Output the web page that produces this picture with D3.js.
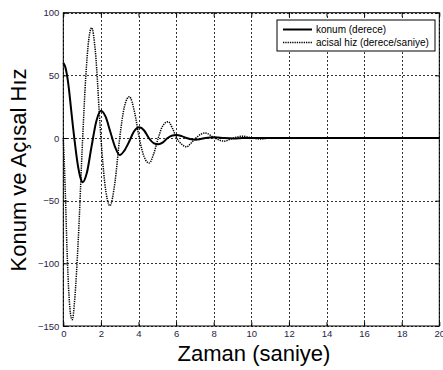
<!DOCTYPE html>
<html>
<head>
<meta charset="utf-8">
<script src="https://cdn.jsdelivr.net/npm/d3@7"></script>
<style>
  body { margin: 0; background: #fff; }
  svg { display: block; font-family: Arial, "Liberation Sans", sans-serif; }
</style>
</head>
<body>
<svg id="chart" width="443" height="370"></svg>
<script>
// konum (derece) - position
const konumT = [0, 0.1, 0.2, 0.3, 0.4, 0.5, 0.6, 0.7, 0.8, 0.9, 1.03, 1.25, 1.5, 1.75, 2.0, 2.25, 2.5, 2.75, 3.0, 3.25, 3.5, 3.75, 4.04, 4.3, 4.55, 4.8, 5.05, 5.3, 5.55, 5.8, 6.03, 6.3, 6.55, 6.8, 7.05, 7.3, 7.55, 7.8, 8.05, 8.55, 9.05, 9.55, 10.05, 11, 20];
const konumV = [60, 57, 50, 39, 25, 11, -2, -14, -24, -31, -35.3, -28, -7, 13, 21.8, 17, 5, -7, -13.6, -10, -3, 5, 8.5, 6, 0, -4, -5, -3.5, 0, 2, 2.4, 1.5, 0, -1, -1.3, -0.8, 0, 0.5, 0.6, 0, -0.3, 0, 0.1, 0, 0];

// acisal hiz (derece/saniye) - angular velocity
const hizT = [0, 0.1, 0.2, 0.3, 0.4, 0.48, 0.6, 0.8, 1.03, 1.2, 1.35, 1.51, 1.7, 2.0, 2.2, 2.48, 2.75, 3.0, 3.25, 3.51, 3.8, 4.04, 4.3, 4.57, 4.8, 5.05, 5.3, 5.58, 5.8, 6.03, 6.3, 6.56, 6.8, 7.05, 7.55, 8.05, 8.55, 9.05, 9.55, 10.05, 10.5, 11, 12.9];
const hizV = [0, -40, -90, -125, -142, -145, -130, -80, 0, 50, 78, 88, 70, 0, -35, -54, -35, 0, 25, 33, 20, 0, -15, -20, -13, 0, 10, 13, 8, 0, -5, -7, -4, 0, 4, 0, -2.5, 0, 1.5, 0, -0.8, 0, 0];

const xTicks = [0, 2, 4, 6, 8, 10, 12, 14, 16, 18, 20];
const yTicks = [-150, -100, -50, 0, 50, 100];
const legendLabels = ["konum (derece)", "acisal hiz (derece/saniye)"];

const svg = d3.select("#chart");
const pl = 63.3, pr = 439.3, pt = 12.7, pb = 326;

const x = d3.scaleLinear().domain([0, 20]).range([pl, pr]);
const y = d3.scaleLinear().domain([-150, 100]).range([pb, pt]);

// grid
svg.append("g")
  .attr("transform", `translate(0,${pb})`)
  .call(d3.axisBottom(x).tickValues(xTicks).tickSize(-(pb - pt)).tickFormat(""))
  .call(g => g.select(".domain").remove())
  .selectAll("line")
  .attr("stroke", "#333").attr("stroke-width", 1).attr("stroke-dasharray", "2,2")
  .attr("shape-rendering", "crispEdges");

svg.append("g")
  .attr("transform", `translate(${pl},0)`)
  .call(d3.axisLeft(y).tickValues(yTicks).tickSize(-(pr - pl)).tickFormat(""))
  .call(g => g.select(".domain").remove())
  .selectAll("line")
  .attr("stroke", "#333").attr("stroke-width", 1).attr("stroke-dasharray", "2,2")
  .attr("shape-rendering", "crispEdges");

// lines
const line = d3.line().x(d => x(d[0])).y(d => y(d[1])).curve(d3.curveMonotoneX);

svg.append("path")
  .datum(hizT.map((t, i) => [t, hizV[i]]))
  .attr("d", line)
  .attr("fill", "none")
  .attr("stroke", "#000")
  .attr("stroke-width", 1.5)
  .attr("stroke-dasharray", "1.3,1");

svg.append("path")
  .datum(konumT.map((t, i) => [t, konumV[i]]))
  .attr("d", line)
  .attr("fill", "none")
  .attr("stroke", "#000")
  .attr("stroke-width", 2);

// axes with inward ticks
const tickColor = "#000";
const labelColor = "#262648";

const xAxis = svg.append("g")
  .attr("transform", `translate(0,${pb})`)
  .call(d3.axisBottom(x).tickValues(xTicks).tickSize(-4).tickPadding(4));
xAxis.select(".domain").remove();
xAxis.selectAll("line").attr("stroke", tickColor);
xAxis.selectAll("text").attr("font-size", 9.5).attr("fill", labelColor);

svg.append("g")
  .attr("transform", `translate(0,${pt})`)
  .call(d3.axisTop(x).tickValues(xTicks).tickSize(-4).tickFormat(""))
  .call(g => g.select(".domain").remove())
  .selectAll("line").attr("stroke", tickColor);

const yAxis = svg.append("g")
  .attr("transform", `translate(${pl},0)`)
  .call(d3.axisLeft(y).tickValues(yTicks).tickSize(-4).tickPadding(4));
yAxis.select(".domain").remove();
yAxis.selectAll("line").attr("stroke", tickColor);
yAxis.selectAll("text").attr("font-size", 9.5).attr("fill", labelColor);

svg.append("g")
  .attr("transform", `translate(${pr},0)`)
  .call(d3.axisRight(y).tickValues(yTicks).tickSize(-4).tickFormat(""))
  .call(g => g.select(".domain").remove())
  .selectAll("line").attr("stroke", tickColor);

// box
svg.append("rect")
  .attr("x", pl).attr("y", pt)
  .attr("width", pr - pl).attr("height", pb - pt)
  .attr("fill", "none").attr("stroke", "#000").attr("stroke-width", 1);

// legend
const lg = svg.append("g");
lg.append("rect")
  .attr("x", 277).attr("y", 20).attr("width", 158).attr("height", 31)
  .attr("fill", "#fff").attr("stroke", "#000").attr("stroke-width", 1);
legendLabels.forEach((lab, i) => {
  const ly = 29.5 + i * 13;
  lg.append("line")
    .attr("x1", 283).attr("x2", 312).attr("y1", ly).attr("y2", ly)
    .attr("stroke", "#000")
    .attr("stroke-width", i === 0 ? 2 : 1.5)
    .attr("stroke-dasharray", i === 0 ? null : "1.3,1");
  lg.append("text")
    .attr("x", 316).attr("y", ly + 3.5)
    .attr("font-size", 10)
    .text(lab);
});

// axis titles
svg.append("text")
  .attr("x", 254).attr("y", 361)
  .attr("text-anchor", "middle")
  .attr("font-size", 22)
  .text("Zaman (saniye)");

svg.append("text")
  .attr("transform", "translate(26,170) rotate(-90)")
  .attr("text-anchor", "middle")
  .attr("font-size", 22)
  .text("Konum ve Açısal Hız");
</script>
</body>
</html>
